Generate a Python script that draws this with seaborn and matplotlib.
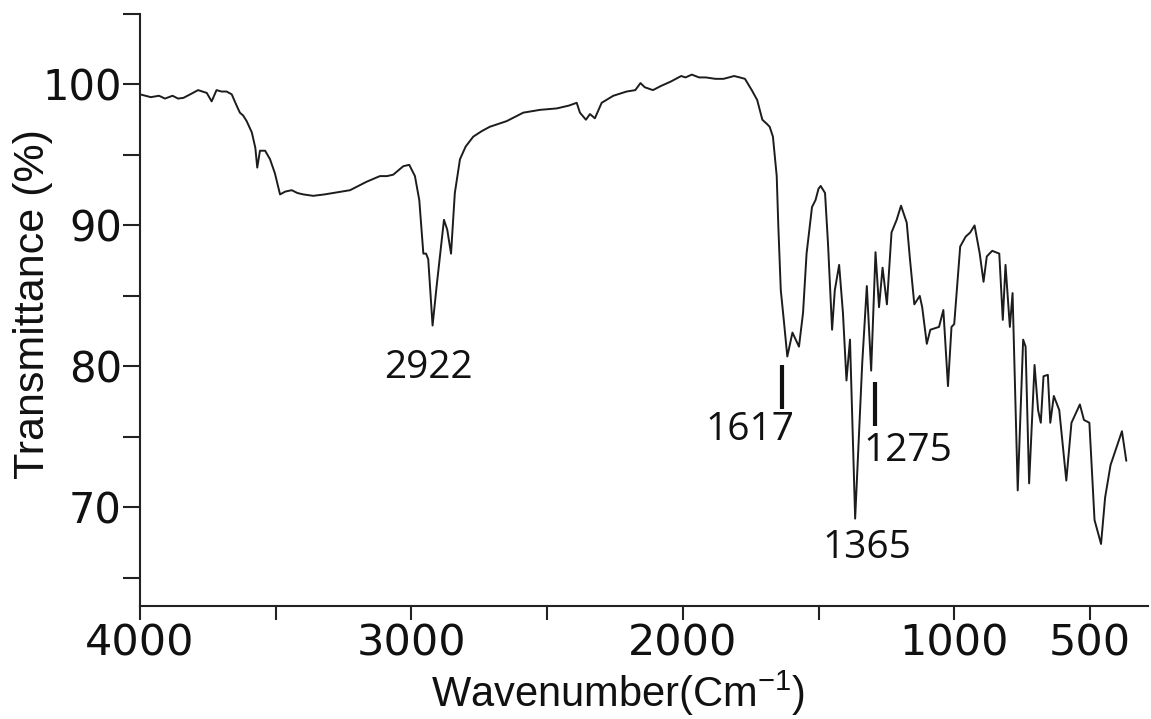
import matplotlib
matplotlib.use("Agg")
import matplotlib.pyplot as plt
import seaborn as sns
import pandas as pd

sns.set_theme(style="ticks")
plt.rcParams['font.family'] = ['DejaVu Sans']
plt.rcParams['mathtext.fontset'] = 'custom'
plt.rcParams['mathtext.rm'] = 'Liberation Sans'

# FTIR spectrum (wavenumber in cm-1, transmittance in %)
wavenumber = [4000, 3960, 3930, 3908, 3880, 3860, 3840, 3815, 3786, 3770, 3754, 3736, 3718, 3700,
              3681, 3662, 3644, 3632, 3620, 3607, 3588, 3575, 3568, 3558, 3539, 3521, 3503, 3484,
              3465, 3441, 3420, 3398, 3362, 3320, 3288, 3226, 3165, 3116, 3090, 3067, 3030, 3008,
              2987, 2971, 2956, 2946, 2938, 2922, 2907, 2880, 2868, 2854, 2840, 2821, 2800, 2772,
              2740, 2711, 2649, 2588, 2526, 2465, 2420, 2391, 2379, 2357, 2342, 2324, 2299, 2256,
              2207, 2175, 2156, 2140, 2110, 2080, 2045, 2006, 1990, 1967, 1940, 1915, 1880, 1850,
              1830, 1811, 1790, 1771, 1746, 1726, 1707, 1690, 1680, 1668, 1654, 1648, 1639, 1628,
              1615, 1596, 1572, 1557, 1544, 1524, 1511, 1500, 1492, 1476, 1465, 1450, 1440, 1424,
              1410, 1397, 1384, 1365, 1339, 1322, 1306, 1290, 1277, 1264, 1248, 1231, 1212, 1196,
              1175, 1163, 1147, 1127, 1118, 1101, 1088, 1056, 1040, 1023, 1010, 1000, 978, 958,
              941, 925, 906, 892, 880, 860, 834, 821, 811, 795, 785, 766, 746, 737, 724, 704,
              691, 681, 671, 655, 646, 633, 613, 587, 568, 537, 522, 502, 483, 459, 444, 424,
              398, 382, 366]
transmittance = [99.3, 99.1, 99.2, 99.0, 99.2, 99.0, 99.05, 99.3, 99.6, 99.5, 99.4, 98.8, 99.6, 99.5,
                 99.5, 99.3, 98.5, 98.0, 97.8, 97.4, 96.6, 95.5, 94.1, 95.3, 95.3, 94.7, 93.7, 92.2,
                 92.4, 92.5, 92.3, 92.2, 92.1, 92.2, 92.3, 92.5, 93.1, 93.5, 93.5, 93.6, 94.2, 94.3,
                 93.5, 91.8, 88.0, 88.0, 87.6, 82.9, 85.7, 90.4, 89.7, 88.0, 92.3, 94.7, 95.6, 96.3,
                 96.7, 97.0, 97.4, 98.0, 98.2, 98.3, 98.5, 98.7, 98.0, 97.5, 97.9, 97.6, 98.7, 99.2,
                 99.5, 99.6, 100.1, 99.8, 99.6, 99.9, 100.2, 100.6, 100.5, 100.7, 100.5, 100.5, 100.4, 100.4,
                 100.5, 100.6, 100.5, 100.4, 99.6, 98.9, 97.5, 97.2, 97.0, 96.3, 93.5, 89.9, 85.4, 83.3,
                 80.7, 82.4, 81.4, 83.8, 88.0, 91.3, 91.8, 92.6, 92.8, 92.3, 88.7, 82.6, 85.4, 87.2,
                 83.8, 79.0, 81.9, 69.2, 80.2, 85.7, 79.7, 88.1, 84.2, 87.0, 84.4, 89.5, 90.4, 91.4,
                 90.2, 87.6, 84.4, 85.0, 84.2, 81.6, 82.6, 82.8, 84.0, 78.6, 82.8, 83.0, 88.5, 89.2,
                 89.5, 90.0, 88.0, 86.0, 87.8, 88.2, 88.0, 83.3, 87.2, 82.8, 85.2, 71.2, 81.9, 81.4, 71.7, 80.1,
                 76.9, 76.0, 79.3, 79.4, 76.0, 77.9, 76.9, 71.9, 76.0, 77.3, 76.2, 76.0, 69.1, 67.4, 70.7, 73.0,
                 74.5, 75.4, 73.3]

# peak annotations
peak_labels = ['2922', '1617', '1365', '1275']
label_wn = [2936, 1752, 1323, 1169]
label_T = [79.9, 75.5, 67.1, 74.0]

# short marker bars under two of the peaks
bar_wn = [1633, 1293]
bar_top = [80.1, 78.9]
bar_bottom = [77.0, 75.8]

x_ticks = [4000, 3500, 3000, 2500, 2000, 1500, 1000, 500]
x_ticklabels = ['4000', '', '3000', '', '2000', '', '1000', '500']
y_ticks = [65, 70, 75, 80, 85, 90, 95, 100, 105]
y_ticklabels = ['', '70', '', '80', '', '90', '', '100', '']

df = pd.DataFrame({'wavenumber': wavenumber, 'transmittance': transmittance})

fig = plt.figure(figsize=(11.51, 7.19), dpi=100)
ax = fig.add_axes([140 / 1151, 1 - 606 / 719, 1008 / 1151, 592 / 719])

sns.lineplot(data=df, x='wavenumber', y='transmittance', ax=ax, color='#1c1c1c',
             linewidth=1.4, estimator=None, sort=False)

ax.vlines(bar_wn, bar_bottom, bar_top, color='#111111', linewidth=3)
for txt, xw, yt in zip(peak_labels, label_wn, label_T):
    ax.text(xw, yt, txt, ha='center', va='center', fontsize=28,
            family=['Open Sans', 'DejaVu Sans'], color='#111111')

ax.set_xlim(4000, 286)
ax.set_ylim(63, 105)
ax.set_xticks(x_ticks)
ax.set_xticklabels(x_ticklabels)
ax.set_yticks(y_ticks)
ax.set_yticklabels(y_ticklabels)

sns.despine(ax=ax)
for side in ['left', 'bottom']:
    ax.spines[side].set_linewidth(1.5)
    ax.spines[side].set_color('#222222')
ax.tick_params(axis='y', length=12, width=1.5, pad=1, labelsize=30, color='#222222', labelcolor='#111111')
ax.tick_params(axis='x', length=10, width=1.5, pad=2, labelsize=31, color='#222222', labelcolor='#111111')

ax.set_xlabel('Wavenumber(Cm$^{-1}$)', fontsize=30, family=['Liberation Sans', 'DejaVu Sans'], color='#111111')
ax.set_ylabel('Transmittance (%)', fontsize=31, family=['Liberation Sans', 'DejaVu Sans'], color='#111111')
ax.xaxis.set_label_coords(0.474, -0.105)
ax.yaxis.set_label_coords(-0.086, 0.51)

fig.savefig('out.png', dpi=100)
